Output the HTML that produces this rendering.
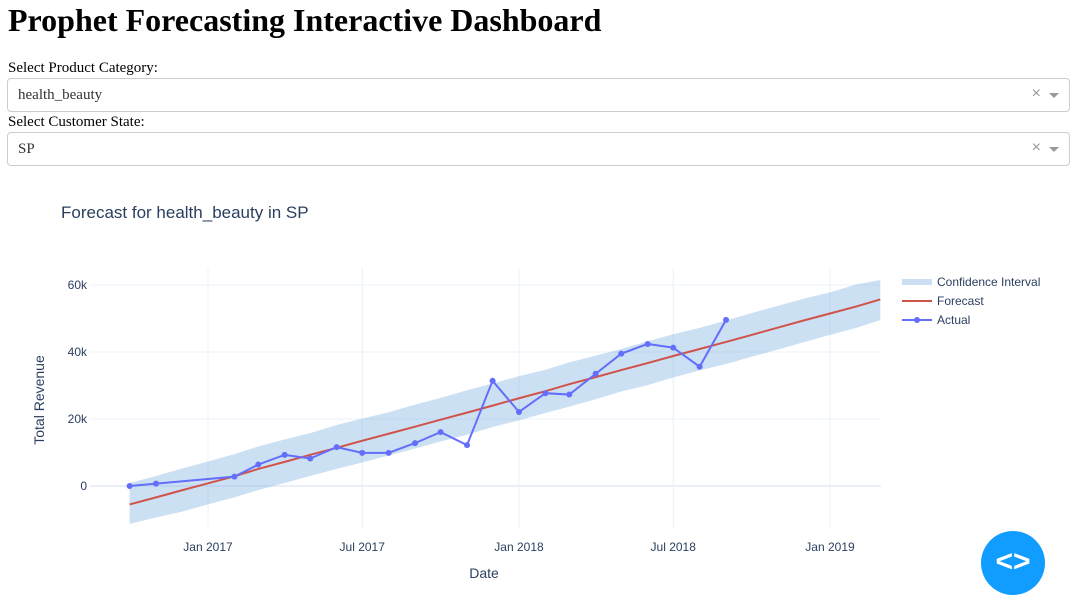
<!DOCTYPE html>
<html><head><meta charset="utf-8"><style>
body{margin:0;width:1081px;height:611px;overflow:hidden;background:#fff;font-family:"Liberation Serif",serif;position:relative}
h1{position:absolute;left:8px;top:2px;margin:0;font-size:32px;font-weight:bold}
.lbl{position:absolute;left:8px;font-size:15px}
.dd{position:absolute;left:7px;width:1063px;height:34px;border:1px solid #ccc;border-radius:4px;box-sizing:border-box}
.dd span.v{position:absolute;left:10px;top:8px;font-size:15px;color:#333}
.dd .x{position:absolute;right:28px;top:6px;color:#999;font-family:"Liberation Sans",sans-serif;font-size:16px}
.dd .ar{position:absolute;right:10px;top:14px;width:0;height:0;border-left:5px solid transparent;border-right:5px solid transparent;border-top:5px solid #999}
svg text{font-family:"Liberation Sans","DejaVu Sans",sans-serif;fill:#2a3f5f}
</style></head><body>
<h1>Prophet Forecasting Interactive Dashboard</h1>
<div class="lbl" style="top:60px">Select Product Category:</div>
<div class="dd" style="top:78px"><span class="v">health_beauty</span><span class="x">×</span><span class="ar"></span></div>
<div class="lbl" style="top:114px">Select Customer State:</div>
<div class="dd" style="top:132px"><span class="v">SP</span><span class="x">×</span><span class="ar"></span></div>
<svg id="c" width="1081" height="611" style="position:absolute;left:0;top:0"></svg>
<div style="position:absolute;left:981px;top:531px;width:64px;height:64px;border-radius:50%;background:#119dff;color:#fff;font:bold 30px 'Liberation Sans',sans-serif;text-align:center;line-height:62px">&lt;&gt;</div>
<script>
const actualDates=["2016-10-01","2016-11-01","2017-02-01","2017-03-01","2017-04-01","2017-05-01","2017-06-01","2017-07-01","2017-08-01","2017-09-01","2017-10-01","2017-11-01","2017-12-01","2018-01-01","2018-02-01","2018-03-01","2018-04-01","2018-05-01","2018-06-01","2018-07-01","2018-08-01","2018-09-01"];
const actualValues=[0,700,2800,6400,9300,8200,11600,9900,9900,12800,16100,12200,31400,22100,27700,27300,33500,39500,42400,41300,35600,49600];
const fcDates=["2016-10-01","2016-11-01","2016-12-01","2017-01-01","2017-02-01","2017-03-01","2017-04-01","2017-05-01","2017-06-01","2017-07-01","2017-08-01","2017-09-01","2017-10-01","2017-11-01","2017-12-01","2018-01-01","2018-02-01","2018-03-01","2018-04-01","2018-05-01","2018-06-01","2018-07-01","2018-08-01","2018-09-01","2018-10-01","2018-11-01","2018-12-01","2019-01-01","2019-02-01","2019-03-01"];
const fcValues=[-5500,-3400,-1300,800,2900,5100,7200,9300,11400,13500,15600,17700,19800,21900,24000,26200,28300,30400,32500,34600,36700,38800,40900,43000,45100,47300,49400,51500,53600,55700];
const fcUpper=[900,3000,5200,7300,9500,11800,13900,15800,18200,20100,22000,24300,26300,28600,30600,32800,34700,36900,38900,40900,43200,45300,47200,49400,51600,53800,55900,57800,60200,61500];
const fcLower=[-11300,-9400,-7700,-5500,-3400,-1200,900,3000,5100,7000,9100,11200,13300,15300,17600,19600,21800,23700,25900,28200,30100,32400,34500,36400,38600,40700,42900,45100,47200,49500];
const yTicks=[0,20000,40000,60000];
const yTickLabels=["0","20k","40k","60k"];
const xTicks=["2017-01-01","2017-07-01","2018-01-01","2018-07-01","2019-01-01"];
const xTickLabels=["Jan 2017","Jul 2017","Jan 2018","Jul 2018","Jan 2019"];
const L=90,R=881,T=268,B=528;
const t0=Date.parse("2017-01-01"),t1=Date.parse("2019-01-01");
function X(d){return 208+(Date.parse(d)-t0)/(t1-t0)*(830-208);}
function Y(v){return 486-v/20000*67;}
const svg=document.getElementById('c');const NS="http://www.w3.org/2000/svg";
function el(t,a,p){const e=document.createElementNS(NS,t);for(const k in a)e.setAttribute(k,a[k]);(p||svg).appendChild(e);return e;}
xTicks.forEach((d,i)=>{const g=el('line',{x1:X(d),x2:X(d),y1:T,y2:B,stroke:'#ebf0f8'});

const t=el('text',{x:X(d),y:551,'text-anchor':'middle','font-size':12});t.textContent=xTickLabels[i];
});
yTicks.forEach((v,i)=>{const g=el('line',{x1:L,x2:R,y1:Y(v),y2:Y(v),stroke:'#ebf0f8','stroke-width':v===0?2:1});

const t=el('text',{x:L-3,y:Y(v)+4,'text-anchor':'end','font-size':12});t.textContent=yTickLabels[i];
});
let d='';fcDates.forEach((x,i)=>{d+=(i?'L':'M')+X(x)+','+Y(fcUpper[i]);});
for(let i=fcDates.length-1;i>=0;i--)d+='L'+X(fcDates[i])+','+Y(fcLower[i]);
const band=el('path',{d:d+'Z',fill:'rgba(100,160,220,0.33)'});

const fl=el('polyline',{points:fcDates.map((x,i)=>X(x)+','+Y(fcValues[i])).join(' '),fill:'none',stroke:'#d0534b','stroke-width':2});

const al=el('polyline',{points:actualDates.map((x,i)=>X(x)+','+Y(actualValues[i])).join(' '),fill:'none',stroke:'#636efa','stroke-width':2});

actualDates.forEach((x,i)=>{const c=el('circle',{cx:X(x),cy:Y(actualValues[i]),r:3,fill:'#636efa'});
});
const tt=el('text',{x:61,y:218,'font-size':17});tt.textContent='Forecast for health_beauty in SP';

const xt=el('text',{x:484,y:578,'text-anchor':'middle','font-size':14});xt.textContent='Date';

const yt=el('text',{x:0,y:0,'text-anchor':'middle','font-size':14,transform:'translate(44,400) rotate(-90)'});yt.textContent='Total Revenue';

const lg=[['Confidence Interval',282],['Forecast',301],['Actual',320]];
lg.forEach((e,i)=>{const g=el('g',{});

if(i===0)el('rect',{x:902,y:e[1]-3,width:30,height:6,fill:'rgba(100,160,220,0.33)'},g);
else el('line',{x1:902,x2:932,y1:e[1],y2:e[1],stroke:i===1?'#d0534b':'#636efa','stroke-width':2},g);
if(i===2)el('circle',{cx:917,cy:e[1],r:3,fill:'#636efa'},g);
const t=el('text',{x:937,y:e[1]+4,'font-size':12},g);t.textContent=e[0];});
</script>
</body></html>
